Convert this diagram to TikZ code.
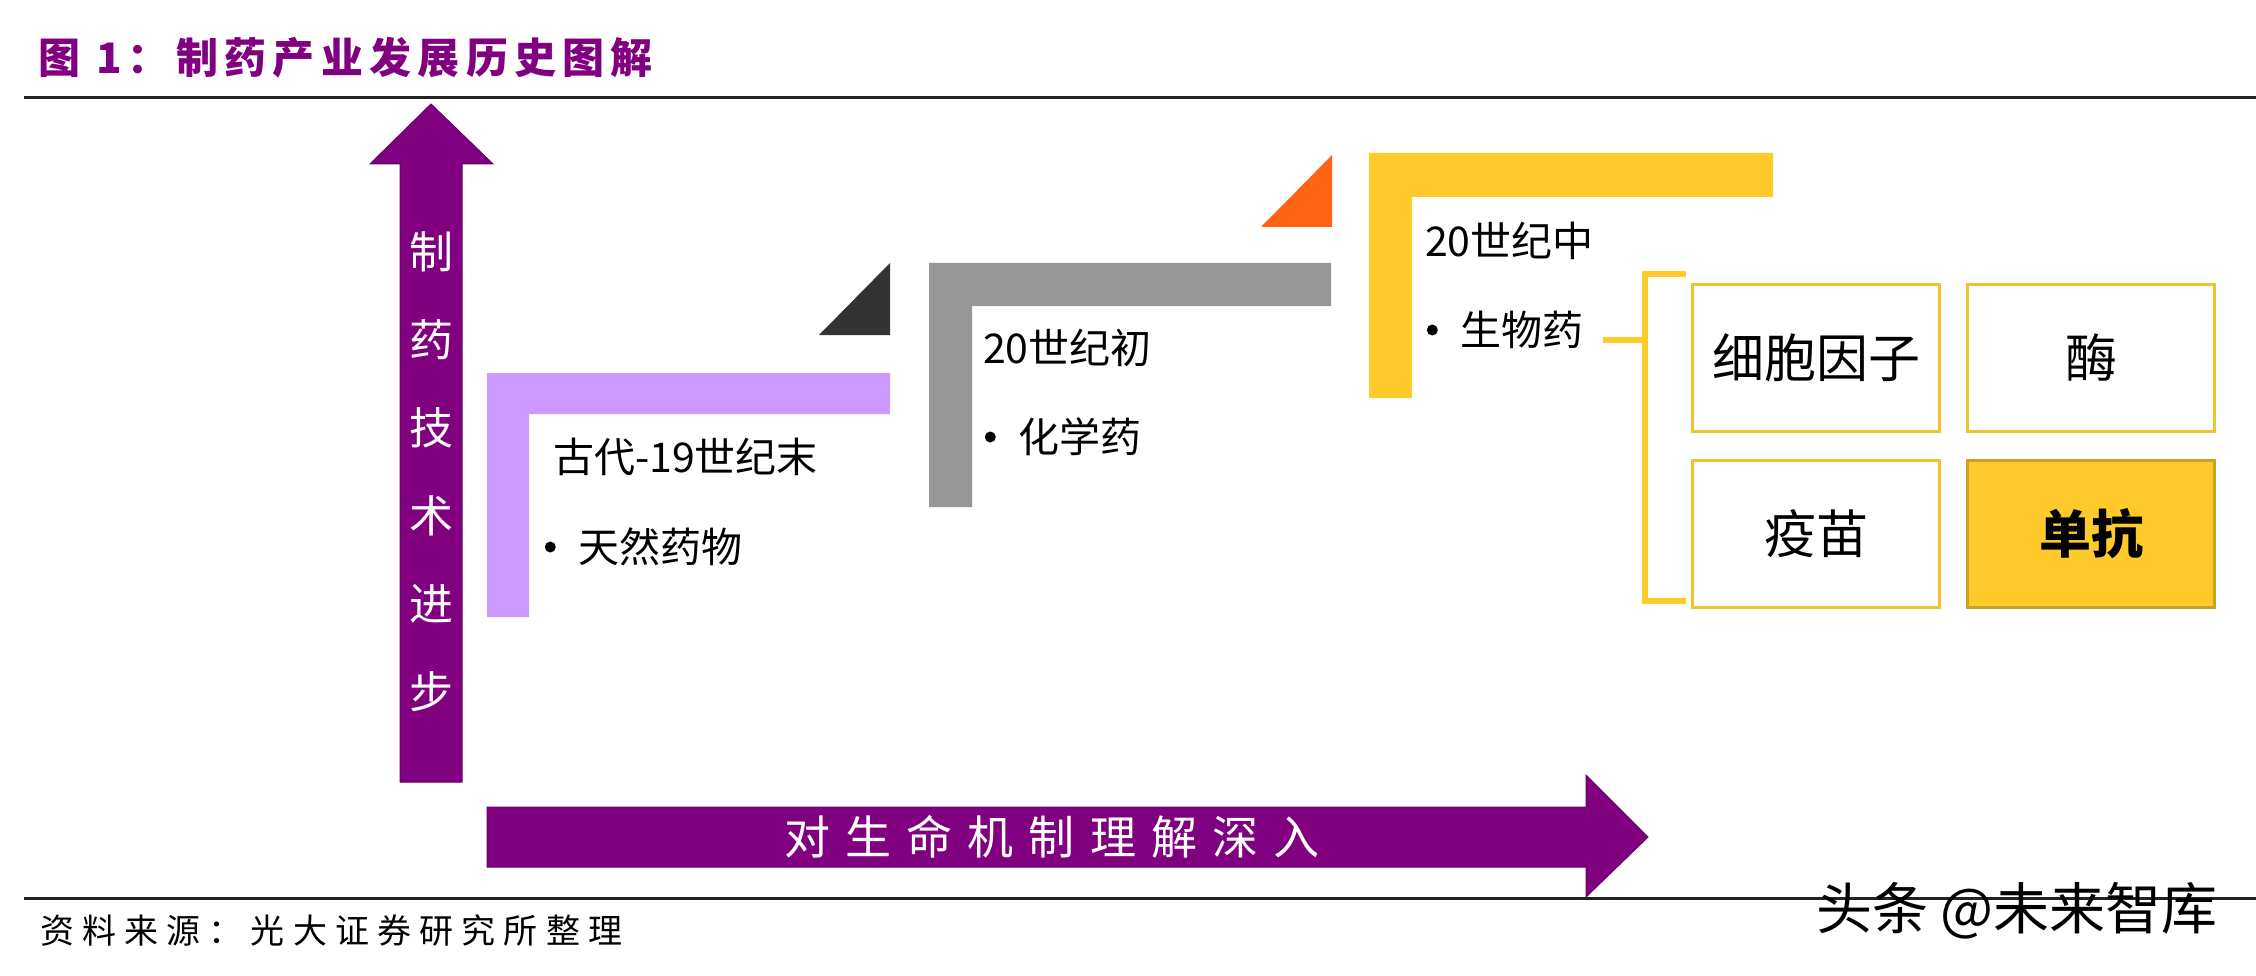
\documentclass[tikz,border=0pt]{standalone}
\usepackage{fontspec}
\usetikzlibrary{positioning}
\newfontfamily\cjk{Noto Sans CJK SC}
\definecolor{plum}{HTML}{800080}
\definecolor{plumdark}{HTML}{660066}
\definecolor{lilac}{HTML}{CC99FF}
\definecolor{ash}{HTML}{969696}
\definecolor{coal}{HTML}{333333}
\definecolor{flame}{HTML}{FF6414}
\definecolor{gold}{HTML}{FFCA2B}
\definecolor{goldline}{HTML}{F2C12E}
\definecolor{golddark}{HTML}{C9A227}
\definecolor{rule}{HTML}{222222}

\begin{document}
\begin{tikzpicture}[x=1pt, y=-1pt, node distance=25pt,
  era/.style = {anchor=west, inner sep=0pt, font=\cjk\fontsize{41}{49}\selectfont},
  drug/.style = {era},
  dot/.style = {circle, fill=black, inner sep=0pt, minimum size=11pt},
  kind/.style = {draw=goldline, line width=3pt, minimum width=247pt, minimum height=147pt, inner sep=0pt, font=\cjk\fontsize{52}{60}\selectfont},
  brace/.style = {draw=gold, line width=6pt}]
\useasboundingbox (0,0) rectangle (2256,976);

% title
\node[anchor=west, inner sep=0pt, text=plum, font={\cjk\bfseries\addfontfeatures{LetterSpace=15}\fontsize{42}{50}\selectfont}] (title) at (38,58) {图 1：制药产业发展历史图解};
\draw[rule, line width=3pt] (24,98) -- (2256,98);

% the two big arrows
\fill[plum, draw=plumdark, line width=1pt] (400,782) -- (400,164) -- (370,164) -- (431,104) -- (493,164) -- (462,164) -- (462,782) -- cycle;
\node[text=white, align=center, inner sep=0pt, font=\cjk\fontsize{44}{88}\selectfont] (up) at (431,472) {制\\药\\技\\术\\进\\步};

\fill[plum, draw=plumdark, line width=1pt] (487,807) -- (1586,807) -- (1586,775) -- (1648,837) -- (1586,897) -- (1586,867) -- (487,867) -- cycle;
\node[text=white, inner sep=0pt, font={\cjk\addfontfeatures{LetterSpace=33}\fontsize{46}{54}\selectfont}] (deep) at (1052,837) {对生命机制理解深入};

% steps
\fill[lilac] (487,373) -- (890,373) -- (890,414) -- (529,414) -- (529,617) -- (487,617) -- cycle;
\fill[coal] (819,335) -- (890,335) -- (890,263) -- cycle;
\fill[ash] (929,263) -- (1331,263) -- (1331,306) -- (972,306) -- (972,507) -- (929,507) -- cycle;
\fill[flame] (1261,227) -- (1332,227) -- (1332,155) -- cycle;
\fill[gold] (1369,153) -- (1773,153) -- (1773,197) -- (1412,197) -- (1412,398) -- (1369,398) -- cycle;

\node[era] (e1) at (553,457) {古代-19世纪末};
\node[drug] (d1) at (578,547) {天然药物};
\node[dot] (p1) [left=22pt of d1] {};

\node[era] (e2) at (983,348) {20世纪初};
\node[drug] (d2) at (1018,437) {化学药};
\node[dot] (p2) [left=22pt of d2] {};

\node[era] (e3) at (1425,241) {20世纪中};
\node[drug] (d3) at (1460,330) {生物药};
\node[dot] (p3) [left=22pt of d3] {};

% kinds of biologics
\node[kind] (b1) at (1816,358) {细胞因子};
\node[kind] (b2) [right=25pt of b1] {酶};
\node[kind] (b3) [below=26pt of b1] {疫苗};
\node[kind, fill=gold, draw=golddark, font={\cjk\bfseries\fontsize{52}{60}\selectfont}] (b4) [right=25pt of b3] {单抗};

\coordinate (k0) at (1603,340);
\coordinate (k1) at (1686,274);
\coordinate (k2) at (1686,601);
\coordinate (k3) at (1645,340);
\draw[brace] (k1) -- ++(-41,0) |- (k2);
\draw[brace] (k0) -- (k3);

% source
\draw[rule, line width=3pt] (24,898) -- (2256,898);
\node[anchor=west, inner sep=0pt, font={\cjk\addfontfeatures{LetterSpace=24}\fontsize{34}{40}\selectfont}] (src) at (40,931) {资料来源：光大证券研究所整理};
\node[anchor=west, inner sep=0pt, font=\cjk\fontsize{56}{60}\selectfont] (mark) at (1816,911) {头条 @未来智库};
\end{tikzpicture}
\end{document}
